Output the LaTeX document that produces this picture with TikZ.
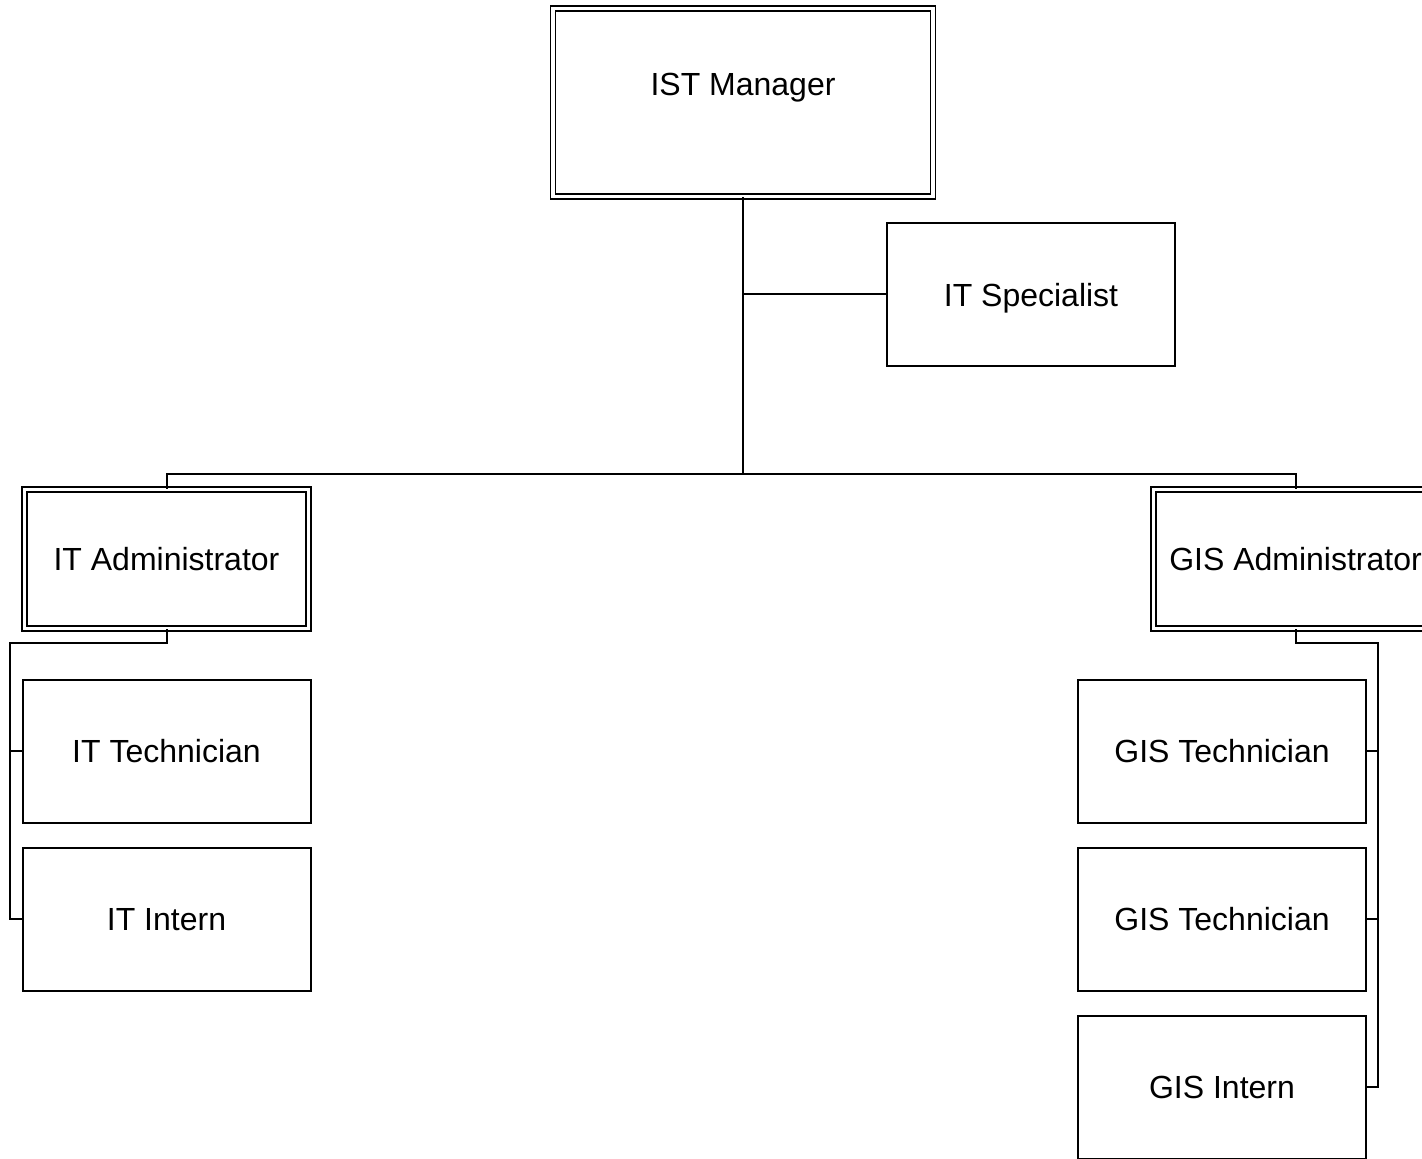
\documentclass[tikz,border=0pt]{standalone}
\usepackage{fontspec}
\setmainfont{Liberation Sans}
\usetikzlibrary{positioning}
\tikzset{job/.style={draw,line width=1pt,minimum width=144pt,minimum height=71.5pt,inner sep=0pt,text depth=0pt},
 lead/.style={draw,line width=.75pt,double,double distance=1.8pt,inner sep=0pt,text depth=0pt},
 wire/.style={line width=1pt},
 every node/.style={font=\fontsize{16}{19}\selectfont}}
\begin{document}
\begin{tikzpicture}[x=.5pt,y=-.5pt]
\useasboundingbox (0,0) rectangle (1422,1159);\clip (0,0) rectangle (1422,1159);
\node[lead,minimum width=190pt,minimum height=94pt] (mgr) at (743,102.5) {};
\node[text depth=0pt] (mgrt) at (743,84) {IST Manager};
\node[job] (spec) at (1031,294.5) {IT Specialist};
\node[lead,minimum width=142pt,minimum height=69.5pt] (itadm) at (166.5,559) {IT Administrator};
\node[lead,minimum width=142pt,minimum height=69.5pt] (gisadm) at (1295.5,559) {GIS Administrator};
\node[job] (itt) at (166.5,751) {IT Technician};\node[job] (iti) at (166.5,919) {IT Intern};
\node[job] (gist1) at (1222,751) {GIS Technician};\node[job] (gist2) at (1222,919) {GIS Technician};
\node[job] (gisi) at (1222,1087) {GIS Intern};
% top level
\coordinate (hub) at (743,474);
\draw[wire] (mgr.south) -- (hub) (mgr.south |- spec.west) -- (spec.west);
\draw[wire] (itadm.north) |- (hub) -| (gisadm.north);
% branches
\coordinate (itbus) at (10,643);\coordinate (gisbus) at (1378,643);
\draw[wire] (itadm.south) |- (itbus) |- (iti.west);\draw[wire] (itbus |- itt.west) -- (itt.west);
\draw[wire] (gisadm.south) |- (gisbus) |- (gisi.east);
\foreach \n in {gist1,gist2}{\draw[wire] (gisbus |- \n.east) -- (\n.east);}
\end{tikzpicture}
\end{document}
